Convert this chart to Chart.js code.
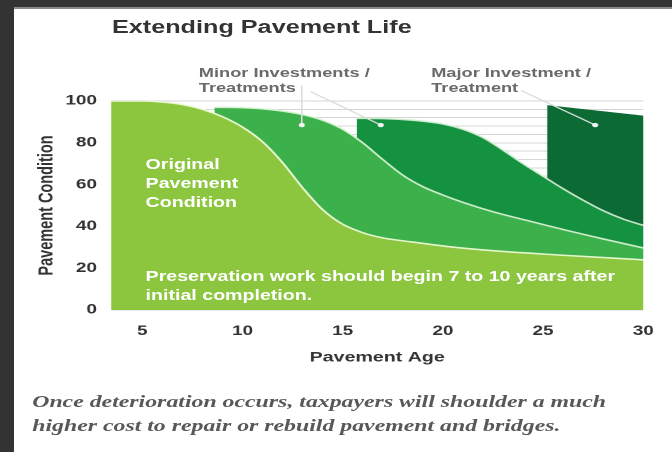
<!DOCTYPE html>
<html>
<head>
<meta charset="utf-8">
<script src="https://cdn.jsdelivr.net/npm/chart.js@4.4.0/dist/chart.umd.min.js"></script>
<style>
html, body { margin: 0; padding: 0; background: #333; }
body { width: 672px; height: 452px; overflow: hidden; position: relative; }
/* the source picture is stretched sideways, so the whole stage is too */
#stage { position: absolute; left: 0; top: 0; width: 480px; height: 452px; transform: scaleX(1.4); transform-origin: 0 0; }
#panel { position: absolute; left: 10px; top: 7px; right: 0; bottom: 0; background: #fff; border-top: 2px solid #8a8a8a; }
#chart { position: absolute; left: 0; top: 0; }
.t { position: absolute; white-space: nowrap; font-family: "Liberation Sans", Arial, sans-serif; font-weight: bold; }
#title { left: 80px; top: 17px; font-size: 18px; color: #333; }
.note { font-size: 13px; line-height: 15px; color: #6a6a6a; }
#minor { left: 142px; top: 65px; }
#major { left: 308px; top: 65px; }
.inside { color: #fff; font-size: 14px; }
#orig { left: 104px; top: 155px; line-height: 19px; }
#pres { left: 104px; top: 267px; line-height: 18.5px; }
#caption { position: absolute; left: 23px; top: 390px; font-family: "Liberation Serif", serif; font-style: italic; font-weight: bold; font-size: 17px; line-height: 24px; color: #585858; white-space: nowrap; }
</style>
</head>
<body>
<div id="stage">
  <div id="panel"></div>
  <canvas id="chart" width="480" height="452"></canvas>
  <div class="t" id="title">Extending Pavement Life</div>
  <div class="t note" id="minor">Minor Investments /<br>Treatments</div>
  <div class="t note" id="major">Major Investment /<br>Treatment</div>
  <div class="t inside" id="orig">Original<br>Pavement<br>Condition</div>
  <div class="t inside" id="pres">Preservation work should begin 7 to 10 years after<br>initial completion.</div>
  <div id="caption">Once deterioration occurs, taxpayers will shoulder a much<br>higher cost to repair or rebuild pavement and bridges.</div>
</div>

<script>
// pavement age (years) and condition (0-100)
var ageOriginal  = [3.44, 5, 6, 7, 8, 9, 10, 11, 12, 13, 14, 15, 16, 17, 18.5, 20.6, 23, 26, 30];
var condOriginal = [100, 100, 99.5, 98.3, 96, 92.5, 87.5, 80.5, 70.5, 58.5, 48, 41, 37, 34.5, 32.5, 30, 28, 26.2, 24];

var ageMinor1  = [8.6, 10, 11.5, 13, 14, 15, 16, 17, 18, 19, 20, 21, 22.5, 24, 26, 28, 30];
var condMinor1 = [97, 96.8, 95.8, 93.5, 90.8, 86.5, 80, 72, 64.5, 59, 55, 51.5, 47, 43.3, 38.5, 34, 29.7];

var ageMinor2  = [15.7, 17, 18.5, 20, 21, 22, 23, 24, 25, 26, 27, 28, 29, 30];
var condMinor2 = [91.7, 91.6, 90.8, 89, 86.5, 82.5, 76.5, 70, 64, 58, 52.5, 47.5, 43.5, 40.5];

var ageMajor  = [25.2, 30];
var condMajor = [98, 93];

var xTicks = [5, 10, 15, 20, 25, 30];
var yTicks = [0, 20, 40, 60, 80, 100];

// pointer lines from the labels: [age, condition] at each end
var callouts = [
  [[12.96, 107.5], [12.96, 88.5]],
  [[13.4, 104.5], [16.9, 88.5]],
  [[23.9, 105], [27.6, 88.5]]
];

var FONT = '"Liberation Sans", Arial, sans-serif';

function pts(xs, ys) {
  var out = [];
  for (var i = 0; i < xs.length; i++) out.push({x: xs[i], y: ys[i]});
  return out;
}

function area(xs, ys, color, edge) {
  return {
    data: pts(xs, ys),
    fill: 'origin',
    backgroundColor: color,
    borderColor: edge || 'rgba(0,0,0,0)',
    borderWidth: edge ? 1.6 : 0,
    pointRadius: 0,
    cubicInterpolationMode: 'monotone'
  };
}

var calloutPlugin = {
  id: 'callouts',
  afterDatasetsDraw: function(chart) {
    var ctx = chart.ctx, xs = chart.scales.x, ys = chart.scales.y;
    ctx.save();
    callouts.forEach(function(c) {
      var x0 = xs.getPixelForValue(c[0][0]), y0 = ys.getPixelForValue(c[0][1]);
      var x1 = xs.getPixelForValue(c[1][0]), y1 = ys.getPixelForValue(c[1][1]);
      ctx.strokeStyle = '#dcdcdc';
      ctx.lineWidth = 1.2;
      ctx.beginPath();
      ctx.moveTo(x0, y0);
      ctx.lineTo(x1, y1);
      ctx.stroke();
      ctx.fillStyle = '#f4f4f4';
      ctx.beginPath();
      ctx.arc(x1, y1, 2.2, 0, Math.PI * 2);
      ctx.fill();
    });
    ctx.restore();
  }
};

new Chart(document.getElementById('chart'), {
  type: 'line',
  data: {
    datasets: [
      area(ageOriginal, condOriginal, '#8cc63f', 'rgba(236,250,214,0.95)'),
      area(ageMinor1, condMinor1, '#3cb04a', 'rgba(220,245,215,0.9)'),
      area(ageMinor2, condMinor2, '#15923f', 'rgba(215,240,215,0.9)'),
      area(ageMajor, condMajor, '#0c6b35')
    ]
  },
  options: {
    responsive: false,
    animation: false,
    devicePixelRatio: 2,
    layout: { padding: { top: 101, left: 24.9, right: 11.4, bottom: 86 } },
    plugins: { legend: { display: false }, tooltip: { enabled: false } },
    scales: {
      x: {
        type: 'linear',
        min: 3.44,
        max: 30,
        afterBuildTicks: function(s) { s.ticks = xTicks.map(function(v) { return {value: v}; }); },
        afterFit: function(s) { s.height = 56; },
        ticks: { padding: 13, maxRotation: 0, color: '#333', font: { family: FONT, size: 13.5, weight: 'bold' } },
        grid: { display: false, drawTicks: false },
        border: { display: false },
        title: { display: true, text: 'Pavement Age', color: '#333', padding: 0, font: { family: FONT, size: 14, weight: 'bold' } }
      },
      y: {
        min: 0,
        max: 100,
        afterFit: function(s) { s.width = 54.4; },
        ticks: {
          stepSize: 4,
          autoSkip: false,
          padding: 10,
          color: '#333',
          font: { family: FONT, size: 13.5, weight: 'bold' },
          callback: function(v) { return yTicks.indexOf(v) >= 0 ? v : ''; }
        },
        grid: { color: '#d6d6d6', lineWidth: 1, drawTicks: false },
        border: { display: false },
        title: { display: true, text: 'Pavement Condition', color: '#333', padding: 0, font: { family: FONT, size: 14.5, weight: 'bold' } }
      }
    }
  },
  plugins: [calloutPlugin]
});
</script>
</body>
</html>
